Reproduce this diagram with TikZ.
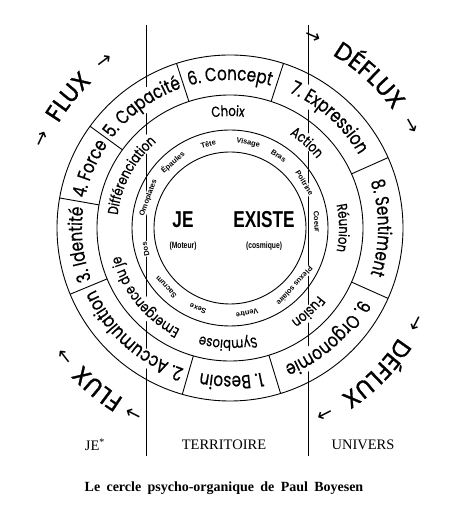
\documentclass[tikz,border=0pt]{standalone}
\usepackage{fontspec}
\usepackage{tikz}
\usetikzlibrary{decorations.text}

\setmainfont{Liberation Serif}
\newfontfamily\ringfont[FakeStretch=0.8, FakeBold=0.6]{Poppins}
\newfontfamily\fluxfont[FakeBold=1.2]{Poppins}
\newfontfamily\bodyfont{Liberation Sans}
\newfontfamily\condfont[FakeStretch=0.75]{Liberation Sans}
\newfontfamily\arrowfont{DejaVu Sans}

\newcommand{\outerfont}{\ringfont\fontsize{19}{22}\selectfont}
\newcommand{\middlefont}{\ringfont\fontsize{14.5}{17}\selectfont}
\newcommand{\bigfont}{\fluxfont\fontsize{24}{28}\selectfont}
\newcommand{\arrfont}{\arrowfont\fontsize{19}{22}\selectfont}

\newlength{\lblwidth}
\newlength{\lblheight}
\newlength{\lbldepth}

\newcommand{\arclabel}[4]{%
  \path[shift={(c)}, decorate,
        decoration={text along path, text align=center, text={|#3|#4}}]
    ({#2+60}:#1) arc[start angle={#2+60}, end angle={#2-60}, radius=#1];}

\newcommand{\ringlabel}[4]{%
  \pgfinterruptpicture
    \settowidth{\lblwidth}{#3#4}\global\lblwidth=\lblwidth
    \settoheight{\lblheight}{#3#4}\global\lblheight=\lblheight
    \settodepth{\lbldepth}{#3#4}\global\lbldepth=\lbldepth
  \endpgfinterruptpicture
  \pgfmathsetmacro{\halfspan}{(\lblwidth+3pt)/#1*90/pi}%
  \pgfmathsetmacro{\maskr}{#1+(\lblheight-\lbldepth)/2}%
  \pgfmathsetlengthmacro{\maskw}{\lblheight+\lbldepth+2pt}%
  \draw[white, line width=\maskw, shift={(c)}]
    ({#2+\halfspan}:\maskr) arc[start angle={#2+\halfspan}, end angle={#2-\halfspan}, radius=\maskr];
  \arclabel{#1}{#2}{#3}{#4}}

\begin{document}
\begin{tikzpicture}
    [
        x=1pt, y=1pt,
        circ/.style={line width=0.9pt},
        divider/.style={line width=0.9pt},
        border/.style={line width=0.7pt},
        inword/.style={font=\bodyfont\bfseries\fontsize{7.4}{9}\selectfont, fill=white, inner sep=0.6pt},
        centreword/.style={font=\condfont\bfseries\fontsize{23}{26}\selectfont, inner sep=0pt},
        centrenote/.style={font=\condfont\bfseries\fontsize{9}{11}\selectfont, inner sep=0pt},
        zone/.style={font=\fontsize{14.5}{17}\selectfont, inner sep=0pt},
    ]
    \useasboundingbox (0,0) rectangle (461,510);
    \coordinate (c) at (230,282);
    \coordinate (lt) at (146,485);
    \coordinate (lb) at (146,54);
    \coordinate (rt) at (308,485);
    \coordinate (rb) at (308,54);

    \draw[border] (lt) -- (lb);
    \draw[border] (rt) -- (rb);

    % outer ring
    \ringlabel{148}{90}{\outerfont}{6. Concept}
    \ringlabel{148}{48}{\outerfont}{7. Expression}
    \ringlabel{148}{0}{\outerfont}{8. Sentiment}
    \ringlabel{148}{-48.5}{\outerfont}{9. Orgonomie}
    \ringlabel{148}{-89.5}{\outerfont}{1. Besoin}
    \ringlabel{148}{-131.75}{\outerfont}{2. Accumulation}
    \ringlabel{148}{186.25}{\outerfont}{3. Identité}
    \ringlabel{148}{157}{\outerfont}{4. Force}
    \ringlabel{148}{126}{\outerfont}{5. Capacité}

    % middle ring
    \ringlabel{112}{91}{\middlefont}{Choix}
    \ringlabel{111}{48}{\middlefont}{Action}
    \ringlabel{109}{0}{\middlefont}{Réunion}
    \ringlabel{111}{-47}{\middlefont}{Fusion}
    \ringlabel{112}{-91}{\middlefont}{Symbiose}
    \ringlabel{113}{219}{\middlefont}{Emergence du je}
    \ringlabel{113}{152}{\middlefont}{Différenciation}

    \draw[circ] (c) circle (173);
    \draw[circ] (c) circle (133);
    \draw[circ] (c) circle (98);
    \draw[circ] (c) circle (76);

    \foreach \a in {108,72,24,-24,-73,-106,-157.5,170,144}
        \draw[divider] ([shift={(\a:133)}]c) -- ([shift={(\a:173)}]c);

    % inner ring
    \foreach \a/\w/\n in {159.7/Omoplates/omoplates, 131/Épaules/epaules,
            104.5/Tête/tete, 78/Visage/visage, 56/Bras/bras, 31/Poitrine/poitrine,
            4/Coeur/coeur, -42/Plexus solaire/plexus, -78.7/Ventre/ventre,
            248.4/Sexe/sexe, 222.7/Sacrum/sacrum, 194/Dos/dos}
        \node[inword, rotate=\a-90] (\n) at ([shift={(\a:87)}]c) {\w};

    % centre
    \node[centreword] (je) at (183,290) {JE};
    \node[centreword] (existe) at (264,290) {EXISTE};
    \node[centrenote] (moteur) at (183,264) {(Moteur)};
    \node[centrenote] (cosmique) at (264,264) {(cosmique)};

    % flux
    \arclabel{201}{141}{\bigfont}{FLUX}
    \arclabel{203}{154.7}{\arrfont}{→}
    \arclabel{203}{127}{\arrfont}{→}
    \arclabel{201}{47.6}{\bigfont}{DÉFLUX}
    \arclabel{203}{66.7}{\arrfont}{→}
    \arclabel{203}{29.5}{\arrfont}{→}
    \arclabel{201}{-44.8}{\bigfont}{DÉFLUX}
    \arclabel{203}{-27}{\arrfont}{→}
    \arclabel{203}{-63}{\arrfont}{→}
    \arclabel{201}{230.4}{\bigfont}{FLUX}
    \arclabel{203}{242.7}{\arrfont}{→}
    \arclabel{203}{218}{\arrfont}{→}

    % zones
    \node[zone] (jezone) at (95,65) {JE\textsuperscript{*}};
    \node[zone] (territoire) at (224,65) {TERRITOIRE};
    \node[zone] (univers) at (363,65) {UNIVERS};
    \node[font=\bfseries\fontsize{14}{17}\selectfont, inner sep=0pt] (caption) at (224,22)
        {\spaceskip=0.45em Le cercle psycho-organique de Paul Boyesen};
\end{tikzpicture}
\end{document}
